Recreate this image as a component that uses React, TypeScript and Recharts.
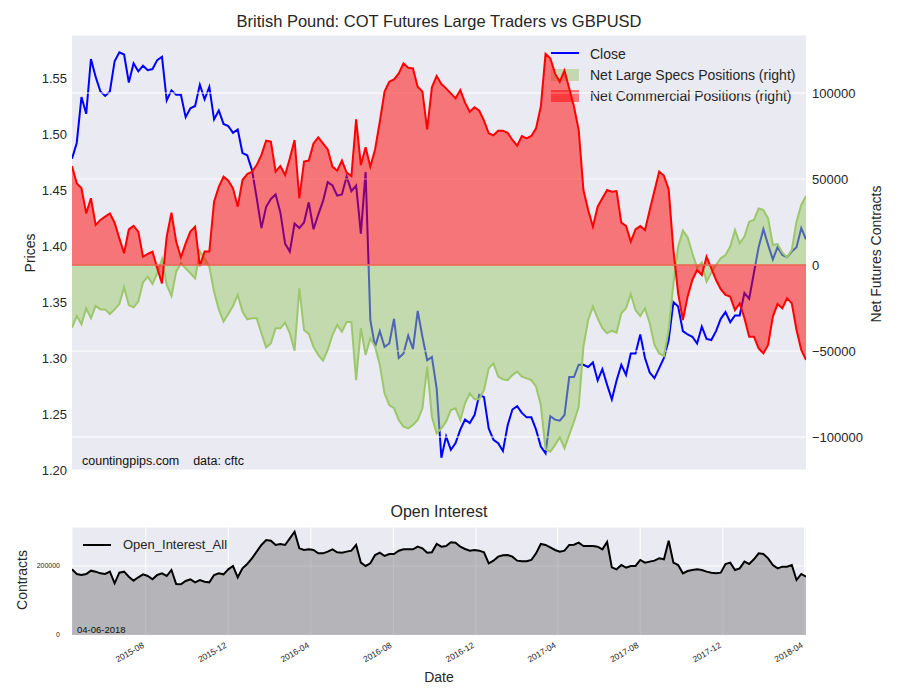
import React from "react";
import {
  ComposedChart,
  Line,
  Area,
  XAxis,
  YAxis,
  CartesianGrid,
  ReferenceLine,
} from "recharts";

// weekly COT report dates, 2015-04-14 .. 2018-04-03
const START = Date.UTC(2015, 3, 14);
const END = Date.UTC(2018, 3, 3);
const WEEK = 7 * 24 * 3600 * 1000;

const closePrice = [
  1.478, 1.492, 1.533, 1.518, 1.567, 1.551, 1.538, 1.534, 1.538, 1.565,
  1.573, 1.571, 1.546, 1.563, 1.556, 1.561, 1.557, 1.558, 1.566, 1.569,
  1.530, 1.539, 1.535, 1.535, 1.515, 1.523, 1.525, 1.544, 1.531, 1.542,
  1.513, 1.521, 1.509, 1.507, 1.501, 1.504, 1.483, 1.481, 1.468, 1.443,
  1.416, 1.435, 1.442, 1.446, 1.430, 1.402, 1.395, 1.420, 1.416, 1.421,
  1.439, 1.415, 1.428, 1.440, 1.457, 1.454, 1.445, 1.446, 1.462, 1.449,
  1.454, 1.411, 1.466, 1.334, 1.310, 1.324, 1.310, 1.313, 1.335, 1.300,
  1.304, 1.320, 1.308, 1.342, 1.319, 1.298, 1.301, 1.273, 1.211, 1.230,
  1.218, 1.224, 1.236, 1.245, 1.242, 1.249, 1.267, 1.265, 1.237, 1.227,
  1.224, 1.217, 1.240, 1.254, 1.257, 1.251, 1.247, 1.247, 1.236, 1.221,
  1.215, 1.248, 1.245, 1.244, 1.249, 1.283, 1.283, 1.294, 1.294, 1.292,
  1.296, 1.280, 1.290, 1.276, 1.263, 1.280, 1.294, 1.285, 1.304, 1.304,
  1.321, 1.300, 1.287, 1.282, 1.291, 1.300, 1.316, 1.350, 1.346, 1.324,
  1.321, 1.319, 1.313, 1.328, 1.317, 1.316, 1.324, 1.335, 1.341, 1.332,
  1.338, 1.338, 1.358, 1.353, 1.376, 1.399, 1.415, 1.401, 1.388, 1.399,
  1.392, 1.390, 1.395, 1.399, 1.416, 1.406,
];

const netLargeSpecs = [
  -36400, -29700, -34500, -25200, -31000, -23800, -25800, -25800, -28500, -25800,
  -22700, -13000, -23300, -24600, -21300, -10100, -6800, -11000, -4800, 3300,
  -11600, -18000, -3900, 1000, -1900, -4800, -7800, 7800, 3900, -1000,
  -15500, -25800, -32900, -28500, -23800, -17400, -27100, -31600, -31000, -31000,
  -39700, -47900, -45500, -36800, -36800, -33500, -39700, -49800, -13600, -37800,
  -40100, -47500, -52300, -55600, -49400, -40700, -34900, -38800, -33100, -33100,
  -66900, -36800, -52300, -42600, -47500, -58100, -74600, -81400, -83300, -90100,
  -94000, -95000, -93000, -90100, -83300, -59100, -88200, -97900, -95000, -91100,
  -84300, -83300, -90100, -80400, -74600, -78100, -78100, -72700, -60100, -57200,
  -64900, -66500, -66900, -64000, -62000, -64900, -65900, -66900, -70700, -81400,
  -107200, -108500, -104700, -100200, -106500, -98800, -91100, -82400, -47500, -32000,
  -24200, -31000, -36800, -39700, -38200, -39300, -28100, -25200, -16900, -26200,
  -29700, -25200, -33900, -46500, -51400, -52900, -37800, -10700, 10700, 20000,
  16100, 6800, -1400, 1400, -9700, -4500, 0, 3900, 5800, 10700,
  20300, 12600, 16500, 25200, 26200, 32900, 32000, 27100, 11600, 12200,
  7200, 4500, 8700, 25200, 34900, 40100,
];

const netCommercial = [
  57600, 47500, 44600, 30000, 38800, 23300, 26200, 28100, 30000, 24600,
  15500, 6800, 20700, 22700, 19400, 4800, 6400, 7800, -1900, -10700,
  16500, 30400, 13600, 4500, 12600, 19400, 22300, -600, 7800, 7800,
  36800, 45500, 51400, 49000, 44600, 33900, 49400, 52900, 54300, 58100,
  64000, 72300, 71700, 54300, 57600, 52300, 62000, 72700, 38800, 60100,
  60700, 70700, 74200, 70700, 67200, 57200, 54800, 60700, 53700, 51700,
  84700, 58100, 68400, 57200, 67200, 83300, 100800, 106600, 107900, 111400,
  117200, 114700, 114300, 103700, 100800, 78900, 103300, 109900, 105200, 102700,
  99800, 96900, 101700, 94400, 89100, 91700, 89700, 83900, 76600, 75400,
  78100, 78100, 76900, 72700, 69400, 75000, 73600, 75000, 79500, 92100,
  122700, 120200, 111400, 106600, 113000, 102700, 92100, 78500, 43600, 32000,
  22300, 33900, 38800, 43600, 42600, 43000, 24600, 22700, 13600, 20700,
  22700, 20300, 32000, 43200, 54300, 51900, 44000, 8700, -16500, -32000,
  -18400, -8700, -2900, -5800, 4800, -1900, -8700, -14100, -17400, -18400,
  -26200, -22300, -31000, -41700, -41700, -48500, -51400, -46500, -30000, -22700,
  -25200, -19400, -22300, -37800, -49400, -55200,
];

const openInterest = [
  190300, 176800, 173900, 176800, 186500, 183600, 178700, 176800, 183600, 149800,
  180700, 183600, 169100, 157500, 167200, 175800, 171000, 161400, 173900, 178700,
  171000, 188400, 147800, 146900, 156500, 161400, 152700, 159400, 154600, 152700,
  173900, 178700, 175800, 190300, 200000, 167200, 193200, 205800, 222200, 241600,
  260900, 275400, 273400, 260900, 263800, 260900, 280200, 299500, 251200, 246400,
  248300, 246400, 236700, 236700, 241600, 248300, 239600, 238700, 241600, 244400,
  260900, 209700, 200000, 207700, 231900, 238700, 229000, 234800, 234800, 244400,
  248300, 248300, 248300, 256000, 251200, 238700, 239600, 263800, 256000, 258000,
  268600, 267600, 256000, 249300, 244400, 246400, 244400, 239600, 207700, 215500,
  227100, 230900, 231900, 227100, 215500, 213500, 213500, 217400, 236700, 263800,
  260900, 254100, 246400, 241600, 244400, 260900, 261800, 267600, 258000, 258000,
  258000, 256000, 248300, 269600, 196100, 190300, 202900, 195200, 200000, 200000,
  217400, 209700, 212600, 215500, 222200, 219300, 273400, 209700, 202900, 178700,
  185500, 188400, 190300, 188400, 183600, 180700, 178700, 180700, 205800, 209700,
  188400, 193200, 212600, 205800, 219300, 236700, 234800, 222200, 202900, 193200,
  198000, 198000, 202900, 159400, 176800, 169000,
];

const priceTicks = [1.2, 1.25, 1.3, 1.35, 1.4, 1.45, 1.5, 1.55];
const netTicks = [-100000, -50000, 0, 50000, 100000];
const oiTicks = [0, 200000];
const dateTickLabels = [
  "2015-08", "2015-12", "2016-04", "2016-08", "2016-12",
  "2017-04", "2017-08", "2017-12", "2018-04",
];

const data = closePrice.map((c, i) => ({
  t: START + i * WEEK,
  close: c,
  specs: netLargeSpecs[i],
  comm: netCommercial[i],
  oi: openInterest[i],
}));

const dateTicks = dateTickLabels.map((s) =>
  Date.UTC(Number(s.slice(0, 4)), Number(s.slice(5)) - 1, 1)
);

const FONT = '"Liberation Sans", Arial, sans-serif';
const TEXT = "#262626";
const BG = "#EAEAF2";
const GREEN = "#9CC76A";

const fmtNet = (v: number) => (v < 0 ? "\u2212" + Math.abs(v) : String(v));

// eslint-disable-next-line @typescript-eslint/no-explicit-any
const DateTick = ({ x, y, payload }: any) => {
  const i = dateTicks.indexOf(payload.value);
  const tx = x - 1;
  const ty = y + 12;
  return (
    <text
      x={tx}
      y={ty}
      transform={`rotate(-30 ${tx} ${ty})`}
      textAnchor="end"
      fontSize={8.5}
      fill={TEXT}
    >
      {dateTickLabels[i]}
    </text>
  );
};

const abs = (left: number, top: number): React.CSSProperties => ({
  position: "absolute",
  left,
  top,
});

export default function App() {
  return (
    <div
      style={{
        position: "absolute",
        left: 0,
        top: 0,
        width: 900,
        height: 700,
        background: "#fff",
        fontFamily: FONT,
        color: TEXT,
        overflow: "hidden",
      }}
    >
      {/* top panel background + legend sit under the twin-axis layer */}
      <div style={{ ...abs(72, 35), width: 734, height: 435, background: BG }} />

      <div style={{ ...abs(551, 52), width: 28, height: 2, background: "#0000ff" }} />
      <div style={{ ...abs(590, 46), fontSize: 14, lineHeight: "16px" }}>Close</div>
      <div style={{ ...abs(551, 69), width: 28, height: 12, background: "rgba(158,198,107,0.5)" }} />
      <div style={{ ...abs(590, 67), fontSize: 14, lineHeight: "16px", whiteSpace: "nowrap" }}>
        Net Large Specs Positions (right)
      </div>
      <div style={{ ...abs(551, 90), width: 28, height: 12, background: "rgba(255,0,0,0.5)" }} />
      <div style={{ ...abs(590, 88), fontSize: 14, lineHeight: "16px", whiteSpace: "nowrap" }}>
        Net Commercial Positions (right)
      </div>

      <div style={{ ...abs(82, 453), fontSize: 12.5, lineHeight: "16px", whiteSpace: "pre", color: "#111" }}>
        {"countingpips.com    data: cftc"}
      </div>

      {/* price line, left axis */}
      <div style={abs(0, 0)}>
        <ComposedChart width={900} height={480} data={data} margin={{ top: 35, right: 94, bottom: 10, left: 0 }}>
          <XAxis type="number" dataKey="t" domain={[START, END]} hide allowDataOverflow />
          <YAxis
            yAxisId="price"
            domain={[1.2, 1.5884]}
            ticks={priceTicks}
            allowDataOverflow
            width={72}
            tickLine={false}
            axisLine={false}
            tickSize={0}
            tickMargin={5}
            tickFormatter={(v: number) => v.toFixed(2)}
            tick={{ fill: TEXT, fontSize: 13 }}
          />
          <Line
            yAxisId="price"
            type="linear"
            dataKey="close"
            stroke="#0000ff"
            strokeWidth={2}
            dot={false}
            activeDot={false}
            isAnimationActive={false}
          />
        </ComposedChart>
      </div>

      {/* positions, right axis */}
      <div style={abs(0, 0)}>
        <ComposedChart width={900} height={480} data={data} margin={{ top: 35, right: 0, bottom: 10, left: 72 }}>
          <CartesianGrid yAxisId="net" vertical={false} stroke="#ffffff" strokeWidth={1} />
          <XAxis type="number" dataKey="t" domain={[START, END]} hide allowDataOverflow />
          <YAxis
            yAxisId="net"
            orientation="right"
            domain={[-119186, 133721]}
            ticks={netTicks}
            allowDataOverflow
            width={94}
            tickLine={false}
            axisLine={false}
            tickSize={0}
            tickMargin={6}
            tickFormatter={fmtNet}
            tick={{ fill: TEXT, fontSize: 13 }}
          />
          <Area
            yAxisId="net"
            type="linear"
            dataKey="specs"
            baseValue={0}
            stroke={GREEN}
            strokeWidth={2}
            fill={GREEN}
            fillOpacity={0.5}
            dot={false}
            activeDot={false}
            isAnimationActive={false}
          />
          <Area
            yAxisId="net"
            type="linear"
            dataKey="comm"
            baseValue={0}
            stroke="#ff0000"
            strokeWidth={2}
            fill="#ff0000"
            fillOpacity={0.5}
            dot={false}
            activeDot={false}
            isAnimationActive={false}
          />
          <ReferenceLine yAxisId="net" y={0} stroke="#EA6350" strokeWidth={1.5} />
        </ComposedChart>
      </div>

      {/* open interest panel */}
      <div style={abs(0, 480)}>
        <ComposedChart width={900} height={220} data={data} margin={{ top: 47, right: 94, bottom: 5, left: 0 }}>
          <CartesianGrid yAxisId="oi" fill={BG} stroke="#ffffff" strokeWidth={1} />
          <XAxis
            type="number"
            dataKey="t"
            domain={[START, END]}
            ticks={dateTicks}
            interval={0}
            allowDataOverflow
            height={60}
            tickLine={false}
            axisLine={false}
            tickSize={0}
            tickMargin={0}
            tick={<DateTick />}
          />
          <YAxis
            yAxisId="oi"
            domain={[0, 313000]}
            ticks={oiTicks}
            allowDataOverflow
            width={72}
            tickLine={false}
            axisLine={false}
            tickSize={0}
            tickMargin={12}
            tick={{ fill: TEXT, fontSize: 7 }}
          />
          <Area
            yAxisId="oi"
            type="linear"
            dataKey="oi"
            baseValue={0}
            stroke="#000000"
            strokeWidth={2}
            fill="#808080"
            fillOpacity={0.5}
            dot={false}
            activeDot={false}
            isAnimationActive={false}
          />
        </ComposedChart>
      </div>

      <div style={{ ...abs(83, 544), width: 28, height: 2, background: "#000" }} />
      <div style={{ ...abs(123, 537), fontSize: 13, lineHeight: "16px" }}>Open_Interest_All</div>
      <div style={{ ...abs(77, 624), fontSize: 9.5, lineHeight: "12px", color: "#111" }}>04-06-2018</div>

      {/* titles and axis labels */}
      <div style={{ ...abs(139, 11), width: 600, textAlign: "center", fontSize: 16.5, lineHeight: "20px" }}>
        British Pound: COT Futures Large Traders vs GBPUSD
      </div>
      <div style={{ ...abs(139, 502), width: 600, textAlign: "center", fontSize: 16, lineHeight: "20px" }}>
        Open Interest
      </div>
      <div style={{ ...abs(339, 668), width: 200, textAlign: "center", fontSize: 14, lineHeight: "18px" }}>
        Date
      </div>
      <div
        style={{
          ...abs(30 - 50, 253 - 9),
          width: 100,
          textAlign: "center",
          fontSize: 14,
          lineHeight: "18px",
          transform: "rotate(-90deg)",
        }}
      >
        Prices
      </div>
      <div
        style={{
          ...abs(876 - 100, 254 - 9),
          width: 200,
          textAlign: "center",
          fontSize: 14,
          lineHeight: "18px",
          transform: "rotate(-90deg)",
          whiteSpace: "nowrap",
        }}
      >
        Net Futures Contracts
      </div>
      <div
        style={{
          ...abs(22 - 50, 580 - 9),
          width: 100,
          textAlign: "center",
          fontSize: 14,
          lineHeight: "18px",
          transform: "rotate(-90deg)",
        }}
      >
        Contracts
      </div>
    </div>
  );
}
